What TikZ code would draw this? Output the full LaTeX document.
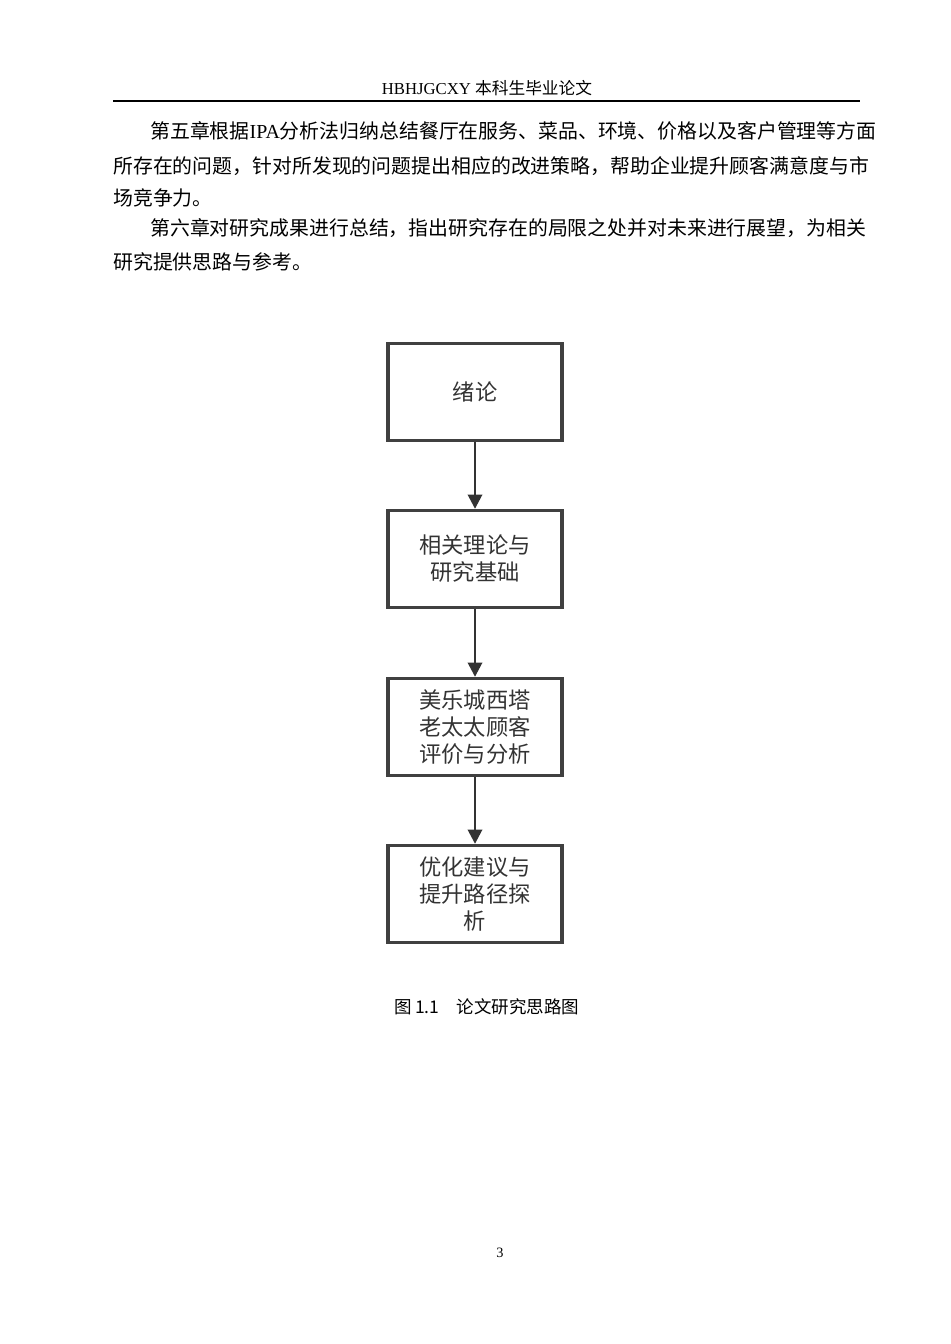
\documentclass[tikz,border=0pt]{standalone}
\usepackage{fontspec}
\setmainfont{Liberation Serif}
\newfontfamily\cjk{Noto Sans CJK SC}
\usetikzlibrary{arrows.meta,positioning}
\tikzset{
  step box/.style={draw=black!75,line width=2.2pt,minimum width=3.85cm,minimum height=2.14cm,
    align=center,font=\cjk\fontsize{14}{17}\selectfont,text=black!80,inner sep=2pt},
  flow/.style={-{Triangle[length=9pt,width=9pt]},draw=black!80,line width=1.6pt},
  body/.style={anchor=west,inner sep=0pt,font=\cjk\fontsize{12.5}{15}\selectfont}
}
\begin{document}
\begin{tikzpicture}[x=0.0221cm,y=-0.0221cm]
\useasboundingbox (0,0) rectangle (950,1344);
% header
\node[inner sep=0pt,font=\fontsize{10.5}{12}\selectfont] (head) at (487,88) {HBHJGCXY {\cjk 本科生毕业论文}};
\draw[line width=1.2pt] (113,101) -- (860,101);
% body text
\node[body] (l1) at (150,131) {第五章根据\textrm{IPA}分析法归纳总结餐厅在服务、菜品、环境、价格以及客户管理等方面};
\node[body] (l2) at (113,166) {所存在的问题，针对所发现的问题提出相应的改进策略，帮助企业提升顾客满意度与市};
\node[body] (l3) at (113,198) {场竞争力。};
\node[body] (l4) at (150,228) {第六章对研究成果进行总结，指出研究存在的局限之处并对未来进行展望，为相关};
\node[body] (l5) at (113,262) {研究提供思路与参考。};
% flow chart
\node[step box] (intro) at (475,392) {绪论};
\node[step box] (theory) at (475,559) {相关理论与\\研究基础};
\node[step box] (review) at (475,727) {美乐城西塔\\老太太顾客\\评价与分析};
\node[step box] (advice) at (475,894) {优化建议与\\提升路径探\\析};
\draw[flow] (intro) -- (theory);
\draw[flow] (theory) -- (review);
\draw[flow] (review) -- (advice);
% caption and page number
\node[inner sep=0pt,font=\cjk\fontsize{11}{13}\selectfont] (cap) at (487,1007) {图\,1.1\quad 论文研究思路图};
\node[inner sep=0pt,font=\fontsize{9}{11}\selectfont] (page) at (500,1253) {3};
\end{tikzpicture}
\end{document}
